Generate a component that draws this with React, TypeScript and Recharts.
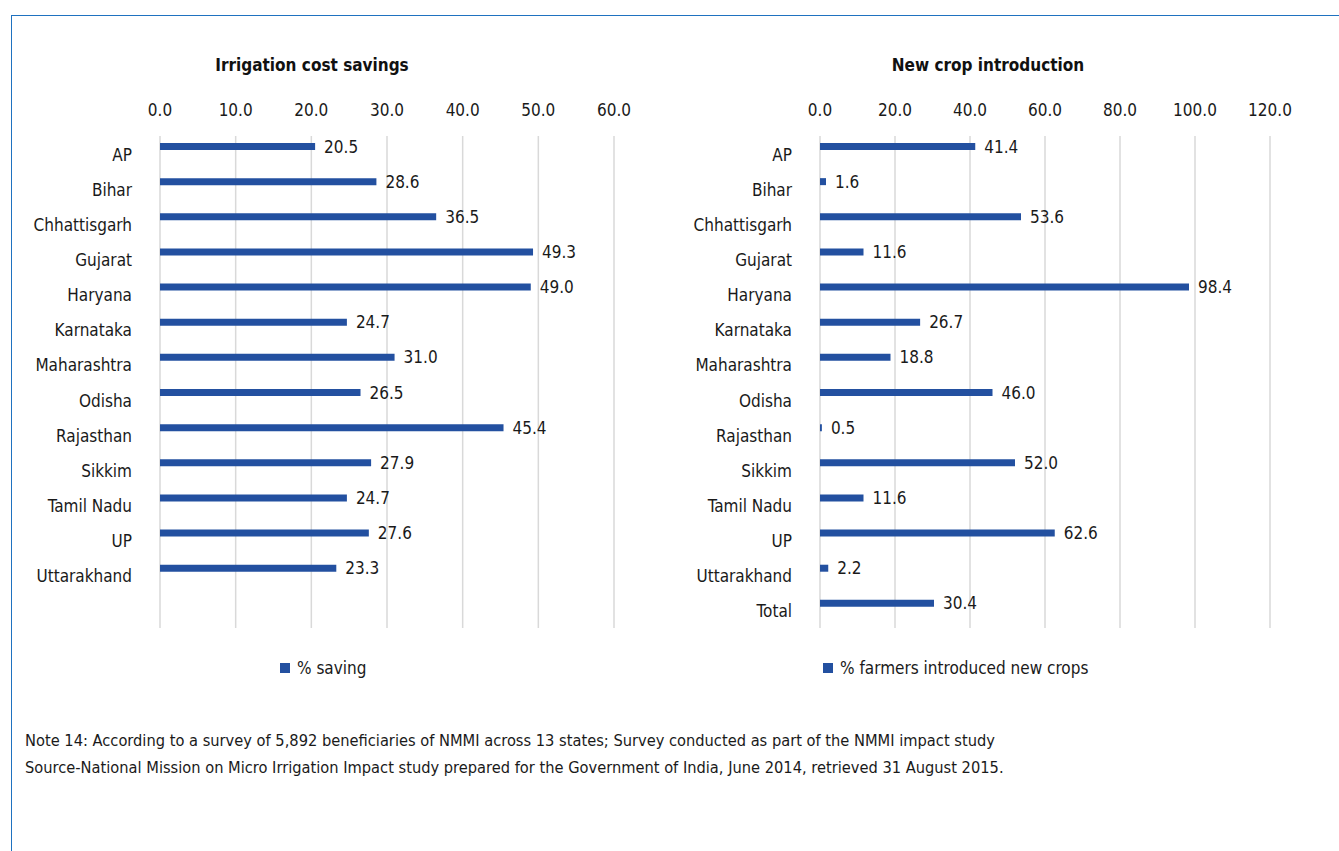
import { Bar, BarChart, CartesianGrid, LabelList, XAxis, YAxis } from "recharts";

const states = [
  "AP",
  "Bihar",
  "Chhattisgarh",
  "Gujarat",
  "Haryana",
  "Karnataka",
  "Maharashtra",
  "Odisha",
  "Rajasthan",
  "Sikkim",
  "Tamil Nadu",
  "UP",
  "Uttarakhand",
];
const savingValues = [20.5, 28.6, 36.5, 49.3, 49.0, 24.7, 31.0, 26.5, 45.4, 27.9, 24.7, 27.6, 23.3];
const savingTicks = [0, 10, 20, 30, 40, 50, 60];

const cropCategories = [...states, "Total"];
const cropValues = [41.4, 1.6, 53.6, 11.6, 98.4, 26.7, 18.8, 46.0, 0.5, 52.0, 11.6, 62.6, 2.2, 30.4];
const cropTicks = [0, 20, 40, 60, 80, 100, 120];

const FONT = "'Liberation Sans Narrow', 'DejaVu Sans Condensed', 'Arial Narrow', sans-serif";
const BLUE = "#2350a0";

// left chart has an empty 14th row so both plots line up
const savingData = [...states, ""].map((s, i) => ({
  state: s,
  value: i < savingValues.length ? savingValues[i] : null,
  pad: null,
}));
const cropData = cropCategories.map((s, i) => ({ state: s, value: cropValues[i], pad: null }));

type PanelProps = {
  data: { state: string; value: number | null; pad: null }[];
  ticks: number[];
  left: number;
  plotLeft: number;
  plotRight: number;
  title: string;
  titleX: number;
  legendLabel: string;
  legendX: number;
};

function Panel({ data, ticks, left, plotLeft, plotRight, title, titleX, legendLabel, legendX }: PanelProps) {
  const width = 660;
  const height = 700;
  const plotTop = 136;
  const plotBottom = 628;
  const axisH = 30;
  const yW = 130;
  const localLeft = plotLeft - left;
  const localRight = plotRight - left;
  return (
    <>
      <div
        style={{
          position: "absolute",
          left: titleX - 200,
          width: 400,
          top: 55,
          textAlign: "center",
          fontFamily: FONT,
          fontWeight: "bold",
          fontSize: 17,
          color: "#111",
        }}
      >
        {title}
      </div>
      <div style={{ position: "absolute", left, top: 0 }}>
        <BarChart
          width={width}
          height={height}
          data={data}
          layout="vertical"
          barSize={7}
          barGap={7}
          margin={{
            top: plotTop - axisH,
            left: localLeft - yW,
            right: width - localRight,
            bottom: height - plotBottom,
          }}
        >
          <CartesianGrid horizontal={false} stroke="#d9d9d9" strokeWidth={1.5} />
          <XAxis
            type="number"
            orientation="top"
            domain={[ticks[0], ticks[ticks.length - 1]]}
            ticks={ticks}
            height={axisH}
            axisLine={false}
            tickLine={false}
            tickSize={0}
            tickMargin={20}
            interval={0}
            tickFormatter={(v) => Number(v).toFixed(1)}
            tick={{ fontSize: 17, fill: "#1a1a1a", fontFamily: FONT }}
          />
          <YAxis
            type="category"
            dataKey="state"
            width={yW}
            axisLine={false}
            tickLine={false}
            tickSize={0}
            tickMargin={28}
            interval={0}
            tick={{ fontSize: 17, fill: "#1a1a1a", fontFamily: FONT, dy: 1 }}
          />
          <Bar dataKey="value" fill={BLUE} isAnimationActive={false}>
            <LabelList
              dataKey="value"
              position="right"
              offset={9}
              formatter={(v: number) => (v == null ? "" : Number(v).toFixed(1))}
              style={{ fontSize: 17, fill: "#1a1a1a", fontFamily: FONT }}
            />
          </Bar>
          <Bar dataKey="pad" fill="none" legendType="none" isAnimationActive={false} />
        </BarChart>
      </div>
      <div
        style={{
          position: "absolute",
          left: legendX,
          top: 658,
          display: "flex",
          alignItems: "center",
          fontFamily: FONT,
          fontSize: 17,
          color: "#1a1a1a",
        }}
      >
        <span style={{ width: 10, height: 10, background: BLUE, marginRight: 7, display: "inline-block" }} />
        <span>{legendLabel}</span>
      </div>
    </>
  );
}

export default function App() {
  return (
    <div style={{ position: "relative", width: 1339, height: 851, background: "#fff", overflow: "hidden" }}>
      <style>{"body{margin:0}"}</style>
      <div
        style={{
          position: "absolute",
          left: 11,
          top: 15,
          width: 1400,
          height: 900,
          borderTop: "1px solid #1f72c0",
          borderLeft: "1px solid #1f72c0",
        }}
      />
      <Panel
        data={savingData}
        ticks={savingTicks}
        left={0}
        plotLeft={160}
        plotRight={614}
        title="Irrigation cost savings"
        titleX={312}
        legendLabel="% saving"
        legendX={280}
      />
      <Panel
        data={cropData}
        ticks={cropTicks}
        left={660}
        plotLeft={820}
        plotRight={1270}
        title="New crop introduction"
        titleX={988}
        legendLabel="% farmers introduced new crops"
        legendX={823}
      />
      <div
        style={{
          position: "absolute",
          left: 25,
          top: 727,
          fontFamily: FONT,
          fontSize: 16.3,
          lineHeight: "27px",
          color: "#1a1a1a",
        }}
      >
        <div>
          Note 14: According to a survey of 5,892 beneficiaries of NMMI across 13 states; Survey conducted as part of
          the NMMI impact study
        </div>
        <div>
          Source-National Mission on Micro Irrigation Impact study prepared for the Government of India, June 2014,
          retrieved 31 August 2015.
        </div>
      </div>
    </div>
  );
}
